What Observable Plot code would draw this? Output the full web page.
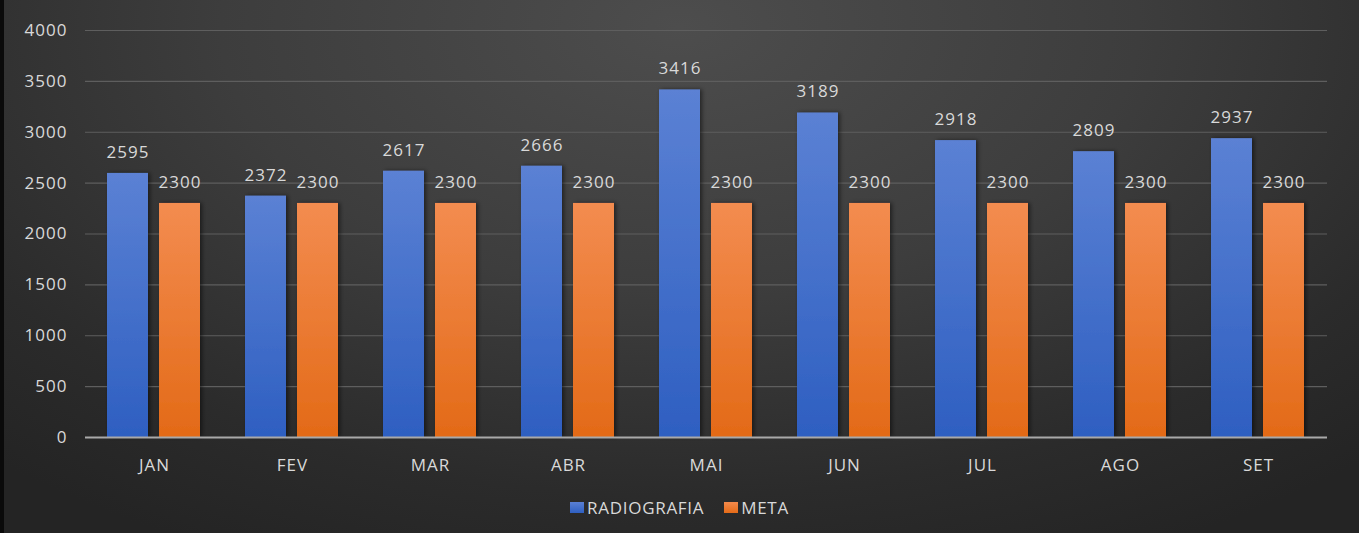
<!DOCTYPE html>
<html>
<head>
<meta charset="utf-8">
<script src="https://cdn.jsdelivr.net/npm/d3@7"></script>
<script src="https://cdn.jsdelivr.net/npm/@observablehq/plot@0.6"></script>
<style>
  html, body { margin: 0; padding: 0; }
  body {
    width: 1359px; height: 533px; overflow: hidden;
    background: radial-gradient(ellipse 75% 110% at 50% 5%, #4d4d4d 0%, #3d3d3d 45%, #2b2b2b 80%, #242424 100%);
    font-family: "Open Sans", sans-serif;
    position: relative;
  }
  #edge { position: absolute; left: 0; top: 0; width: 4px; height: 533px; background: #0a0a0a; }
  #chart svg { display: block; background: transparent; }
  #legend {
    position: absolute; top: 496px; left: 0; width: 1359px;
    display: flex; justify-content: center; align-items: center; gap: 20px;
    color: #d9d9d9; font-size: 17px; letter-spacing: 0.7px;
  }
  .item { display: flex; align-items: center; gap: 3px; }
  .sw { width: 14px; height: 11px; display: inline-block; }
</style>
</head>
<body>
<div id="edge"></div>
<div id="chart"></div>
<div id="legend">
  <span class="item"><span class="sw" style="background:linear-gradient(#5a80d4,#2f60c2)"></span>RADIOGRAFIA</span>
  <span class="item"><span class="sw" style="background:linear-gradient(#f38a4c,#e46b18)"></span>META</span>
</div>
<script>
const months = ["JAN","FEV","MAR","ABR","MAI","JUN","JUL","AGO","SET"];
const seriesNames = ["RADIOGRAFIA","META"];
const radiografia = [2595,2372,2617,2666,3416,3189,2918,2809,2937];
const meta = [2300,2300,2300,2300,2300,2300,2300,2300,2300];
const yTicks = [0,500,1000,1500,2000,2500,3000,3500,4000];

const data = months.flatMap((m, i) => [
  {month: m, series: seriesNames[0], value: radiografia[i]},
  {month: m, series: seriesNames[1], value: meta[i]}
]);

const labelColor = "#d9d9d9";

const chart = Plot.plot({
  width: 1359,
  height: 490,
  marginLeft: 83,
  marginRight: 30,
  marginTop: 30,
  marginBottom: 53,
  style: {background: "transparent", color: labelColor, fontFamily: "Open Sans, sans-serif", fontSize: "17px", letterSpacing: "1px"},
  fx: {domain: months, padding: 0, axis: "bottom", tickSize: 0, tickPadding: 21, label: null},
  x: {domain: seriesNames, axis: null, paddingInner: 0.21, paddingOuter: 0.41},
  y: {domain: [0, 4000], ticks: yTicks, tickFormat: d => String(d), tickSize: 0, tickPadding: 18, label: null, grid: false},
  marks: [
    Plot.gridY(yTicks, {stroke: "#5e5e5e", strokeOpacity: 1, strokeWidth: 1.2}),
    Plot.barY(data.filter(d => d.series === seriesNames[0]), {fx: "month", x: "series", y: "value", fill: "url(#gradBlue)", inset: 0}),
    Plot.barY(data.filter(d => d.series === seriesNames[1]), {fx: "month", x: "series", y: "value", fill: "url(#gradOrange)", inset: 0}),
    Plot.ruleY([0], {stroke: "#a9a9a9", strokeWidth: 2}),
    Plot.text(data, {fx: "month", x: "series", y: "value", text: d => String(d.value), dy: -21, fill: labelColor, fontSize: 17})
  ]
});

const svg = d3.select(chart);
const defs = svg.insert("defs", ":first-child");
const gb = defs.append("linearGradient").attr("id", "gradBlue").attr("x1", 0).attr("y1", 0).attr("x2", 0).attr("y2", 1);
gb.append("stop").attr("offset", "0%").attr("stop-color", "#5b81d4");
gb.append("stop").attr("offset", "100%").attr("stop-color", "#2e5fc1");
const go = defs.append("linearGradient").attr("id", "gradOrange").attr("x1", 0).attr("y1", 0).attr("x2", 0).attr("y2", 1);
go.append("stop").attr("offset", "0%").attr("stop-color", "#f38c50");
go.append("stop").attr("offset", "100%").attr("stop-color", "#e36a17");
const f = defs.append("filter").attr("id", "shadow").attr("x", "-20%").attr("y", "-5%").attr("width", "140%").attr("height", "110%");
f.append("feDropShadow").attr("dx", 2).attr("dy", 0).attr("stdDeviation", 2).attr("flood-color", "#000").attr("flood-opacity", 0.5);
svg.selectAll("g[aria-label='bar'] rect").attr("filter", "url(#shadow)");

document.getElementById("chart").appendChild(chart);
</script>
</body>
</html>
